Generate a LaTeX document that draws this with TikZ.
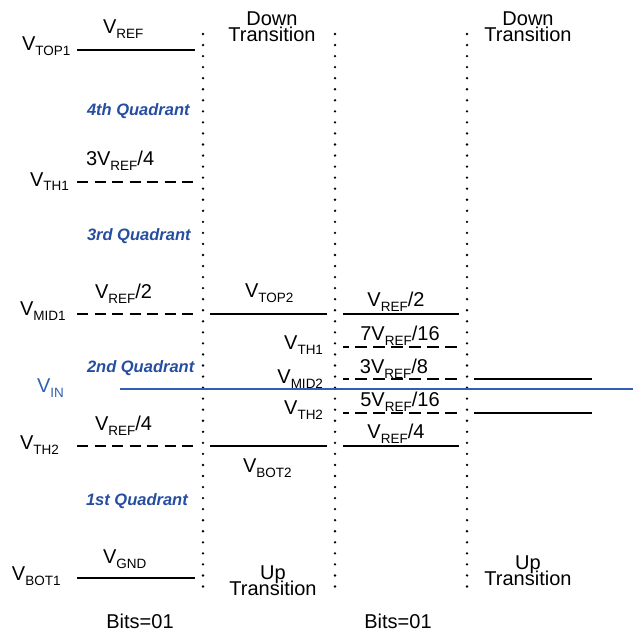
\documentclass[tikz,border=0pt]{standalone}
\usepackage{fontspec}
\setmainfont{Liberation Sans}
\definecolor{qblue}{RGB}{38,78,160}
\definecolor{vinblue}{RGB}{50,95,180}
\newcommand\sbx[1]{\raisebox{-5pt}{\fontsize{13.5}{13.5}\selectfont #1}}
\newcommand\Vx[1]{V\sbx{#1}}
\tikzset{
  lbl/.style={inner sep=0pt, outer sep=0pt, font=\fontsize{20}{20}\selectfont},
  twoline/.style={inner sep=0pt, outer sep=0pt, align=center, font=\fontsize{20}{16}\selectfont, anchor=north},
  quad/.style={inner sep=0pt, outer sep=0pt, font=\fontsize{16.5}{16.5}\selectfont\bfseries\itshape, text=qblue, anchor=base west},
  lvl/.style={line width=2.8pt},
  lvldash/.style={line width=2.8pt, dash pattern=on 11pt off 6.5pt},
  lvldashb/.style={line width=2.8pt, dash pattern=on 11.5pt off 6.5pt, dash phase=6pt},
  vline/.style={line width=2.6pt, line cap=round, dash pattern=on 0pt off 11.05pt},
  vinline/.style={draw=vinblue, line width=1.4pt}
}
\begin{document}
\begin{tikzpicture}[x=1pt,y=-1pt]
\useasboundingbox (0,0) rectangle (633,636);
% dotted separators
\draw[vline] (203,34) coordinate (s1t) -- (203,597) coordinate (s1b);
\draw[vline] (335,34) coordinate (s2t) -- (335,597) coordinate (s2b);
\draw[vline] (467,34) coordinate (s3t) -- (467,597) coordinate (s3b);
% column 1 levels
\draw[lvl] (77,50) coordinate (a1) -- (195,50) coordinate (a2);
\draw[lvldash] (77,182) coordinate (b1) -- (195,182) coordinate (b2);
\draw[lvldash] (77,314) coordinate (c1) -- (195,314) coordinate (c2);
\draw[lvldash] (77,446) coordinate (d1) -- (195,446) coordinate (d2);
\draw[lvl] (77,578) coordinate (e1) -- (195,578) coordinate (e2);
% column 2 levels
\draw[lvl] (210,314) coordinate (f1) -- (327,314) coordinate (f2);
\draw[lvl] (210,446) coordinate (g1) -- (327,446) coordinate (g2);
% column 3 levels
\draw[lvl] (343,314) coordinate (h1) -- (459,314) coordinate (h2);
\draw[lvldashb] (343,347) coordinate (i1) -- (459,347) coordinate (i2);
\draw[lvldashb] (343,379) coordinate (j1) -- (459,379) coordinate (j2);
\draw[lvldashb] (343,413) coordinate (k1) -- (459,413) coordinate (k2);
\draw[lvl] (343,446) coordinate (l1) -- (459,446) coordinate (l2);
% column 4 levels
\draw[lvl] (474,379) coordinate (m1) -- (592,379) coordinate (m2);
\draw[lvl] (474,413) coordinate (n1) -- (592,413) coordinate (n2);
% V_IN
\draw[vinline] (120,389) coordinate (vin1) -- (633,389) coordinate (vin2);
% column 1 labels
\node[lbl, anchor=base west] (vtop1) at (22,51) {\Vx{TOP1}};
\node[lbl, anchor=base west] (vref) at (103,34) {\Vx{REF}};
\node[quad] (q4) at (87,116) {4th Quadrant};
\node[lbl, anchor=base west] (vref34) at (86,166) {3\Vx{REF}/4};
\node[lbl, anchor=base west] (vth1a) at (30,186) {\Vx{TH1}};
\node[quad] (q3) at (87,240) {3rd Quadrant};
\node[lbl, anchor=base west] (vref2a) at (95,298) {\Vx{REF}/2};
\node[lbl, anchor=base west] (vmid1) at (20,315) {\Vx{MID1}};
\node[quad] (q2) at (87,372) {2nd Quadrant};
\node[lbl, anchor=base west, text=vinblue] (vin) at (37,392) {\Vx{IN}};
\node[lbl, anchor=base west] (vref4a) at (95,430) {\Vx{REF}/4};
\node[lbl, anchor=base west] (vth2a) at (20,449) {\Vx{TH2}};
\node[quad] (q1) at (86,505) {1st Quadrant};
\node[lbl, anchor=base west] (vgnd) at (103,563) {\Vx{GND}};
\node[lbl, anchor=base west] (vbot1) at (12,580) {\Vx{BOT1}};
% column 2 labels
\node[twoline] (dt1) at (272,11.7) {Down\\Transition};
\node[lbl, anchor=base west] (vtop2) at (245,297) {\Vx{TOP2}};
\node[lbl, anchor=base east] (vth1b) at (323,349) {\Vx{TH1}};
\node[lbl, anchor=base east] (vmid2) at (323,383) {\Vx{MID2}};
\node[lbl, anchor=base east] (vth2b) at (323,414) {\Vx{TH2}};
\node[lbl, anchor=base west] (vbot2) at (243,472) {\Vx{BOT2}};
\node[twoline] (ut1) at (273,565.7) {Up\\[-3.5pt]Transition};
% column 3 labels
\node[lbl, anchor=base] (vref2b) at (396,306) {\Vx{REF}/2};
\node[lbl, anchor=base] (v716) at (400,340) {7\Vx{REF}/16};
\node[lbl, anchor=base] (v38) at (394,373) {3\Vx{REF}/8};
\node[lbl, anchor=base] (v516) at (400,406) {5\Vx{REF}/16};
\node[lbl, anchor=base] (vref4b) at (396,438) {\Vx{REF}/4};
% column 4 labels
\node[twoline] (dt3) at (528,11.7) {Down\\Transition};
\node[twoline] (ut3) at (528,555.7) {Up\\[-3.5pt]Transition};
% bottom
\node[lbl, anchor=base] (bits1) at (140,628) {Bits=01};
\node[lbl, anchor=base] (bits2) at (398,628) {Bits=01};
\end{tikzpicture}
\end{document}
